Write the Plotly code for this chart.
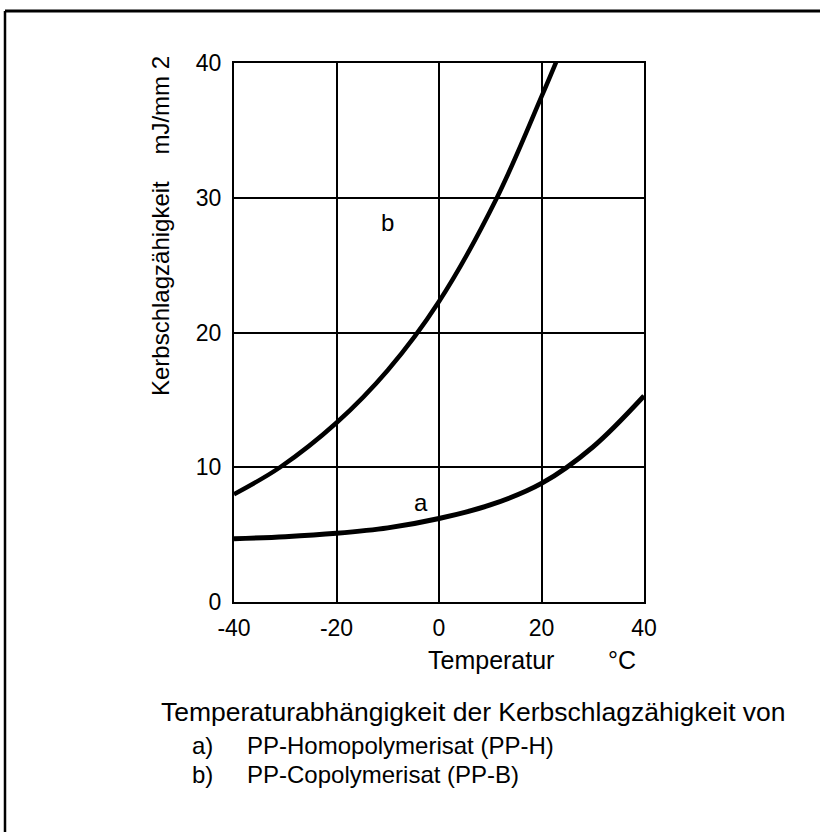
import plotly.graph_objects as go

# ---- data ----
temp_a = [-40, -30, -20, -10, 0, 10, 20, 30, 40]
kerb_a = [4.7, 4.85, 5.1, 5.5, 6.2, 7.2, 8.8, 11.5, 15.3]

temp_b = [-40, -31, -20, -10, 0, 11.3, 20, 23.0]
kerb_b = [8.0, 10.0, 13.3, 17.2, 22.3, 30.0, 37.5, 40.2]

x_ticks = [-40, -20, 0, 20, 40]
y_ticks = [0, 10, 20, 30, 40]

caption_title = "Temperaturabhängigkeit der Kerbschlagzähigkeit von"
caption_items = [("a)", "PP-Homopolymerisat (PP-H)"), ("b)", "PP-Copolymerisat (PP-B)")]

W, H = 820, 832
L, R, T, B = 234, 644, 63, 602
FONT = "Liberation Sans, Arial, Helvetica, sans-serif"


def px(x):
    return (x - L) / (R - L)


def py(y):
    return (B - y) / (B - T)


fig = go.Figure()
fig.add_trace(go.Scatter(x=temp_a, y=kerb_a, mode="lines",
                         line=dict(color="black", width=5, shape="spline", smoothing=1.0),
                         hoverinfo="skip", showlegend=False))
fig.add_trace(go.Scatter(x=temp_b, y=kerb_b, mode="lines",
                         line=dict(color="black", width=4.5, shape="spline", smoothing=1.0),
                         hoverinfo="skip", showlegend=False))


def note(xp, yp, text, size, xanchor="center", angle=0):
    return dict(x=px(xp), y=py(yp), xref="paper", yref="paper", text=text,
                showarrow=False, xanchor=xanchor, yanchor="middle", textangle=angle,
                font=dict(size=size, color="black", family=FONT))


annotations = [
    dict(x=-10, y=28.2, xref="x", yref="y", text="b", showarrow=False,
         xanchor="center", yanchor="middle", font=dict(size=24, color="black", family=FONT)),
    dict(x=-3.5, y=7.4, xref="x", yref="y", text="a", showarrow=False,
         xanchor="center", yanchor="middle", font=dict(size=24, color="black", family=FONT)),
    note(160, 226, "Kerbschlagzähigkeit    mJ/mm 2", 24, angle=-90),
    note(491, 660, "Temperatur", 25),
    note(622, 660, "°C", 25),
    note(159, 712, caption_title, 26.5, xanchor="left"),
]
for i, (lab, txt) in enumerate(caption_items):
    yy = 745 + i * 29
    annotations.append(note(190, yy, lab, 24, xanchor="left"))
    annotations.append(note(245, yy, txt, 24, xanchor="left"))

shapes = [
    dict(type="line", xref="paper", yref="paper", x0=px(5), x1=px(820), y0=py(11), y1=py(11),
         line=dict(color="black", width=3)),
    dict(type="line", xref="paper", yref="paper", x0=px(5), x1=px(5), y0=py(11), y1=py(832),
         line=dict(color="black", width=2.5)),
]

fig.update_layout(
    width=W, height=H,
    margin=dict(l=L, r=W - R, t=T, b=H - B),
    paper_bgcolor="white", plot_bgcolor="white",
    font=dict(family=FONT, color="black", size=23),
    annotations=annotations, shapes=shapes,
    xaxis=dict(range=[-40, 40], tickvals=x_ticks, ticktext=[str(v) for v in x_ticks],
               showgrid=True, gridcolor="black", gridwidth=2, zeroline=False,
               showline=True, linecolor="black", linewidth=2, mirror=True,
               ticks="", ticklabelstandoff=4, tickfont=dict(size=23), fixedrange=True),
    yaxis=dict(range=[0, 40], tickvals=y_ticks, ticktext=[str(v) for v in y_ticks],
               showgrid=True, gridcolor="black", gridwidth=2, zeroline=False,
               showline=True, linecolor="black", linewidth=2, mirror=True,
               ticks="", ticklabelstandoff=6, tickfont=dict(size=23), fixedrange=True),
)

fig.write_html("out.html", config=dict(displayModeBar=False),
               post_script="document.body.style.margin='0';document.body.style.overflow='hidden';")
